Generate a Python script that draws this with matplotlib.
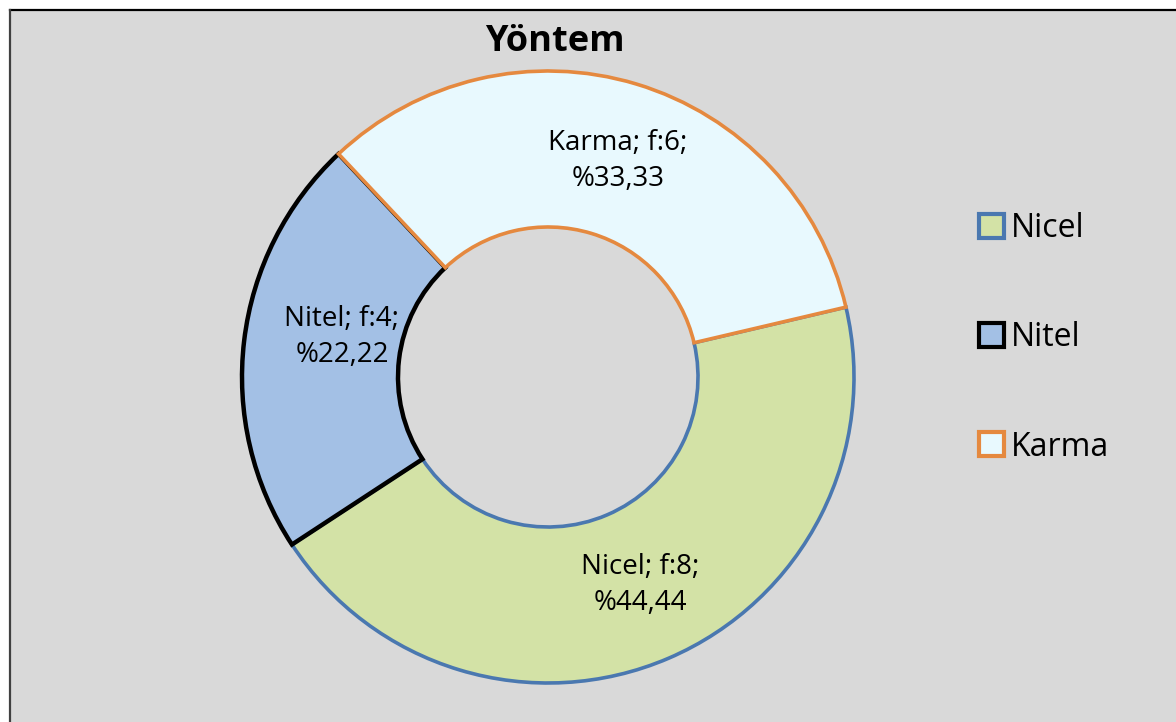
import matplotlib
matplotlib.use("Agg")
import matplotlib.pyplot as plt
from matplotlib.patches import Rectangle, Patch
from matplotlib.lines import Line2D

categories = ["Nicel", "Nitel", "Karma"]
freqs = [8, 4, 6]
percents = ["44,44", "22,22", "33,33"]
title = "Yöntem"

fills = ["#d3e2a6", "#a3c0e5", "#e8f9fe"]
edges = ["#4a78b0", "#000000", "#e5893f"]
lws = [2.6, 3.2, 2.6]

plt.rcParams['font.family'] = ['Open Sans', 'DejaVu Sans']

W, H = 1176, 722
fig = plt.figure(figsize=(W / 100, H / 100), dpi=100, facecolor="white")

# chart area background with top/left border
bg = Rectangle((10 / W, 0), 1 - 10 / W, 1 - 10 / H, transform=fig.transFigure,
               facecolor="#d9d9d9", edgecolor="none", zorder=-5)
fig.patches.append(bg)
fig.lines.append(Line2D([10 / W, 1], [1 - 10 / H, 1 - 10 / H], transform=fig.transFigure,
                        color="black", lw=1.6, zorder=-4))
fig.lines.append(Line2D([10 / W, 10 / W], [0, 1 - 10 / H], transform=fig.transFigure,
                        color="#404040", lw=1.6, zorder=-4))

cx, cy, R = 548, 377, 306
ax = fig.add_axes([(cx - R) / W, (H - cy - R) / H, 2 * R / W, 2 * R / H])
ax.set_facecolor("none")
ax.set_zorder(2)

wedges, _ = ax.pie(freqs, startangle=13.2, counterclock=False, radius=1.0,
                   colors=fills,
                   wedgeprops=dict(width=1 - 150 / 306))
for w, ec, lw in zip(wedges, edges, lws):
    w.set_edgecolor(ec)
    w.set_linewidth(lw)
    w.set_joinstyle("miter")
ax.set_xlim(-1, 1)
ax.set_ylim(-1, 1)
ax.set_aspect("equal")
ax.axis("off")

# data labels (pixel positions of centres)
label_pos = [(640, 585), (342, 337), (618, 161)]
for cat, f, p, (lx, ly) in zip(categories, freqs, percents, label_pos):
    x = (lx - cx) / R
    y = (cy - ly) / R
    ax.text(x, y, f"{cat}; f:{f};\n%{p}", ha="center", va="center",
            fontsize=20, linespacing=1.35, color="black")

fig.text(555 / W, 1 - 42 / H, title, ha="center", va="center",
         fontsize=26, fontweight="bold")

handles = [Patch(facecolor=fc, edgecolor=ec, linewidth=3.0)
           for fc, ec in zip(fills, edges)]
leg = fig.legend(handles, categories, loc="center left",
                 bbox_to_anchor=(963 / W, 1 - 338 / H),
                 frameon=False, fontsize=23, handlelength=0.78, handleheight=0.78,
                 handletextpad=0.22, labelspacing=2.38, borderpad=0)
leg.set_zorder(3)

fig.savefig("out.png", dpi=100, facecolor=fig.get_facecolor())
